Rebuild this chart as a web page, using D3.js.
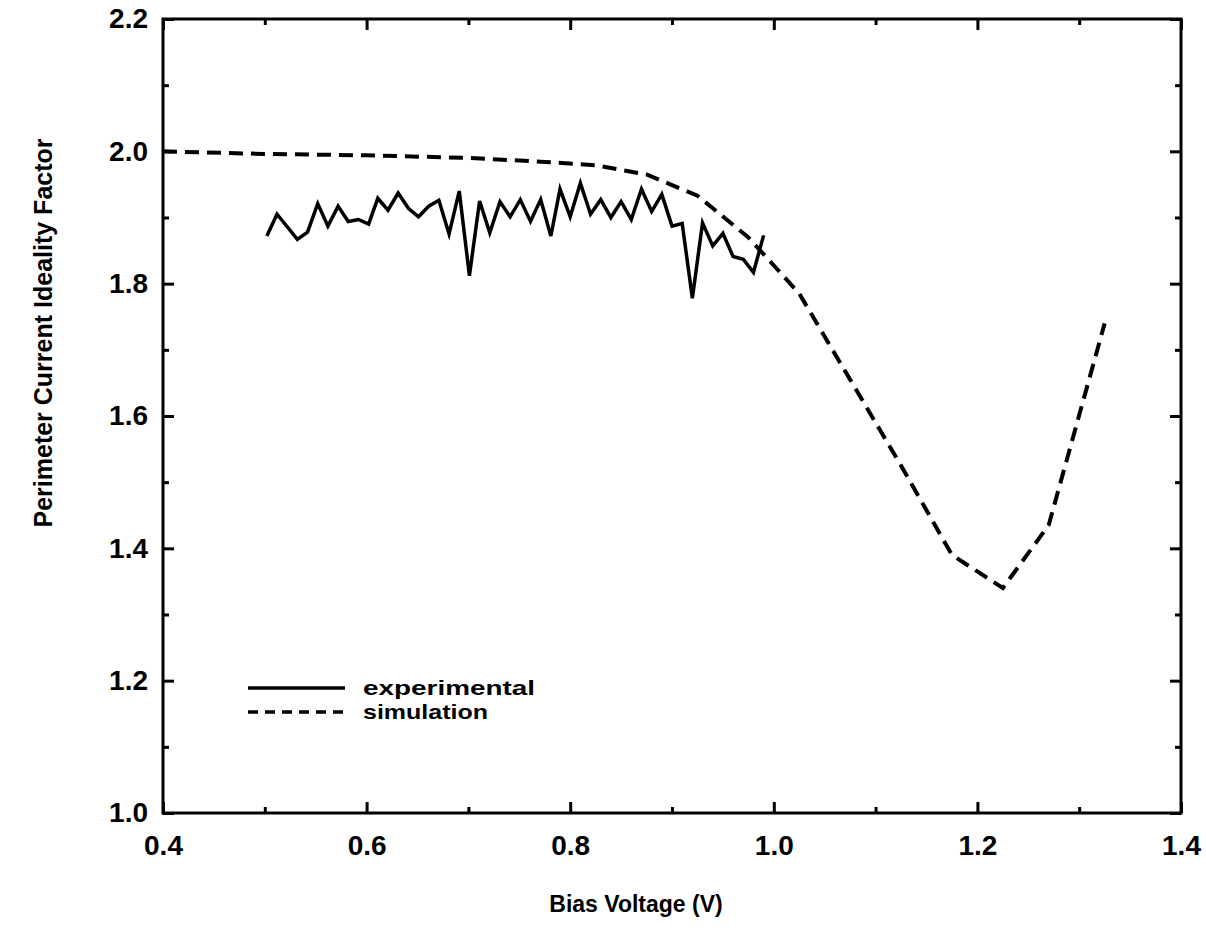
<!DOCTYPE html>
<html>
<head>
<meta charset="utf-8">
<script src="https://cdn.jsdelivr.net/npm/d3@7"></script>
<style>
  html, body { margin: 0; padding: 0; background: #fff; }
  svg { display: block; }
  text { font-family: "Liberation Sans", Arial, Helvetica, sans-serif; font-weight: bold; fill: #000; }
</style>
</head>
<body>
<svg id="chart" width="1206" height="935"></svg>
<script>
// ---- data ----
const xMajorTicks = [0.4, 0.6, 0.8, 1.0, 1.2, 1.4];
const xMinorTicks = [0.5, 0.7, 0.9, 1.1, 1.3];
const yMajorTicks = [1.0, 1.2, 1.4, 1.6, 1.8, 2.0, 2.2];
const yMinorTicks = [1.1, 1.3, 1.5, 1.7, 1.9, 2.1];

const expVoltage = [0.502,0.512,0.522,0.532,0.542,0.552,0.562,0.572,0.582,0.592,
                    0.602,0.611,0.621,0.631,0.641,0.651,0.661,0.671,0.681,0.691,
                    0.701,0.711,0.721,0.731,0.741,0.751,0.761,0.771,0.781,0.790,
                    0.800,0.810,0.820,0.830,0.840,0.850,0.860,0.870,0.880,0.890,
                    0.900,0.910,0.920,0.930,0.940,0.950,0.960,0.970,0.980,0.990];
const expIdeality = [1.872,1.905,1.886,1.867,1.878,1.921,1.887,1.917,1.894,1.897,
                     1.890,1.929,1.911,1.937,1.914,1.901,1.917,1.926,1.875,1.940,
                     1.812,1.925,1.877,1.924,1.901,1.927,1.894,1.927,1.872,1.943,
                     1.901,1.952,1.905,1.927,1.900,1.924,1.897,1.943,1.909,1.935,
                     1.887,1.891,1.778,1.892,1.857,1.876,1.841,1.837,1.817,1.873];

const simVoltage  = [0.40, 0.50, 0.60, 0.70, 0.775, 0.825, 0.875, 0.925, 0.975, 1.025, 1.075, 1.125, 1.175, 1.225, 1.270, 1.325];
const simIdeality = [2.000, 1.996, 1.994, 1.990, 1.984, 1.979, 1.965, 1.933, 1.870, 1.785, 1.655, 1.525, 1.390, 1.340, 1.435, 1.740];

const legendLabels = ["experimental", "simulation"];
const xTitle = "Bias Voltage  (V)";
const yTitle = "Perimeter Current Ideality Factor";

// ---- layout ----
const svg = d3.select("#chart");
const L = 163, R = 1181, T = 19, B = 813;

const x = d3.scaleLinear().domain([0.4, 1.4]).range([L, R]);
const y = d3.scaleLinear().domain([1.0, 2.2]).range([B, T]);

const fmt = d3.format(".1f");

// frame
svg.append("rect")
  .attr("x", L).attr("y", T).attr("width", R - L).attr("height", B - T)
  .attr("fill", "none").attr("stroke", "#000").attr("stroke-width", 3);

function styleAxis(g) {
  g.select(".domain").remove();
  g.selectAll(".tick line").attr("stroke", "#000").attr("stroke-width", 3);
}

// bottom axis (labels + major inward ticks)
svg.append("g").attr("transform", `translate(0,${B})`)
  .call(d3.axisBottom(x).tickValues(xMajorTicks).tickSize(-11).tickPadding(22).tickFormat(fmt))
  .call(styleAxis)
  .call(g => g.selectAll("text").attr("font-size", 28).attr("dy", "0.72em"));
svg.append("g").attr("transform", `translate(0,${B})`)
  .call(d3.axisBottom(x).tickValues(xMinorTicks).tickSize(-6).tickFormat(""))
  .call(styleAxis);
// top axis
svg.append("g").attr("transform", `translate(0,${T})`)
  .call(d3.axisTop(x).tickValues(xMajorTicks).tickSize(-11).tickFormat(""))
  .call(styleAxis);
svg.append("g").attr("transform", `translate(0,${T})`)
  .call(d3.axisTop(x).tickValues(xMinorTicks).tickSize(-6).tickFormat(""))
  .call(styleAxis);

// left axis
svg.append("g").attr("transform", `translate(${L},0)`)
  .call(d3.axisLeft(y).tickValues(yMajorTicks).tickSize(-11).tickPadding(15).tickFormat(fmt))
  .call(styleAxis)
  .call(g => g.selectAll("text").attr("font-size", 28));
svg.append("g").attr("transform", `translate(${L},0)`)
  .call(d3.axisLeft(y).tickValues(yMinorTicks).tickSize(-6).tickFormat(""))
  .call(styleAxis);
// right axis
svg.append("g").attr("transform", `translate(${R},0)`)
  .call(d3.axisRight(y).tickValues(yMajorTicks).tickSize(-11).tickFormat(""))
  .call(styleAxis);
svg.append("g").attr("transform", `translate(${R},0)`)
  .call(d3.axisRight(y).tickValues(yMinorTicks).tickSize(-6).tickFormat(""))
  .call(styleAxis);

// series
const line = d3.line().x(d => x(d[0])).y(d => y(d[1]));
const simData = simVoltage.map((v, i) => [v, simIdeality[i]]);
const expData = expVoltage.map((v, i) => [v, expIdeality[i]]);

svg.append("path").datum(simData)
  .attr("d", line).attr("fill", "none").attr("stroke", "#000")
  .attr("stroke-width", 4).attr("stroke-dasharray", "14,8");

svg.append("path").datum(expData)
  .attr("d", line).attr("fill", "none").attr("stroke", "#000")
  .attr("stroke-width", 3.5).attr("stroke-linejoin", "miter");

// legend
const lg = svg.append("g");
const legendY = [688, 712];
const dashes = [null, "10,7"];
const legendWidths = [172, 125];
legendLabels.forEach((lab, i) => {
  lg.append("line").attr("x1", 248).attr("x2", 345)
    .attr("y1", legendY[i]).attr("y2", legendY[i])
    .attr("stroke", "#000").attr("stroke-width", 3.5)
    .attr("stroke-dasharray", dashes[i]);
  lg.append("text").attr("x", 363).attr("y", legendY[i]).attr("dy", "0.33em")
    .attr("font-size", 21)
    .attr("textLength", legendWidths[i]).attr("lengthAdjust", "spacingAndGlyphs")
    .text(lab);
});

// axis titles
svg.append("text").attr("x", 636).attr("y", 912).attr("text-anchor", "middle")
  .attr("font-size", 23).text(xTitle);
svg.append("text").attr("transform", `translate(52,333) rotate(-90)`)
  .attr("text-anchor", "middle").attr("font-size", 25).text(yTitle);
</script>
</body>
</html>
